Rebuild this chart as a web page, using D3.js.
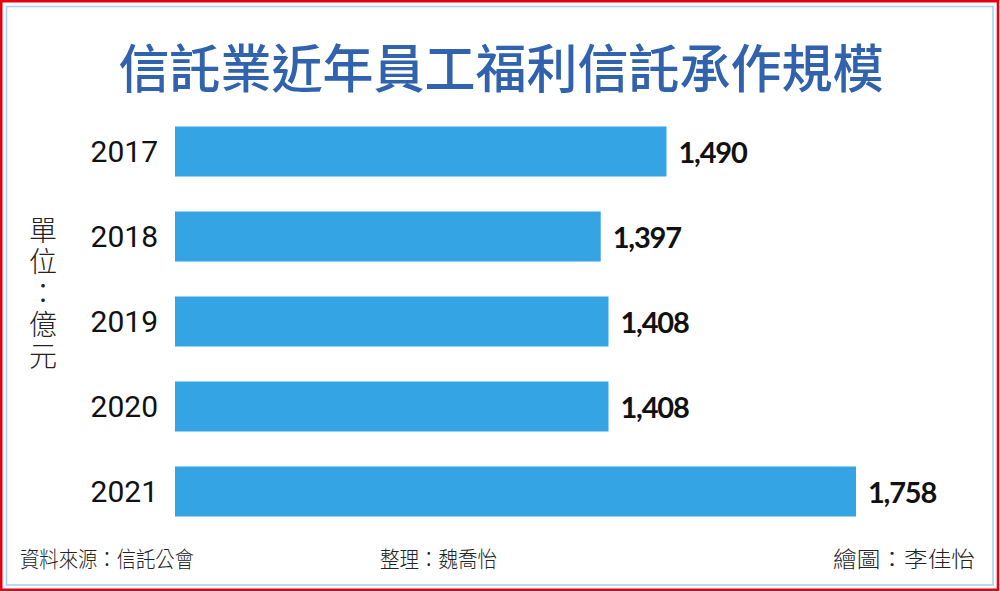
<!DOCTYPE html>
<html>
<head>
<meta charset="utf-8">
<script src="https://cdn.jsdelivr.net/npm/d3@7"></script>
<style>
  html, body { margin: 0; padding: 0; background: #fff; }
  svg { display: block; }
</style>
</head>
<body>
<svg id="chart" width="1000" height="592"></svg>
<script>
const years = ['2017', '2018', '2019', '2020', '2021'];
const values = [1490, 1397, 1408, 1408, 1758];
const valueLabels = ['1,490', '1,397', '1,408', '1,408', '1,758'];
const unitLabel = '單位：億元';
const footers = ['資料來源：信託公會', '整理：魏喬怡', '繪圖：李佳怡'];

const title = '信託業近年員工福利信託承作規模';

const svg = d3.select('#chart');
const cjk = '"Noto Sans CJK TC", "Noto Sans CJK SC", sans-serif';

// frame: red outer line, light blue inner line
svg.append('rect')
  .attr('x', 1.2).attr('y', 1.2)
  .attr('width', 996.8).attr('height', 588.6)
  .attr('fill', 'none')
  .attr('stroke', '#e60012')
  .attr('stroke-width', 2.6);

svg.append('rect')
  .attr('x', 6.5).attr('y', 6.5)
  .attr('width', 986.5).attr('height', 578.5)
  .attr('fill', 'none')
  .attr('stroke', '#a9d3f0')
  .attr('stroke-width', 1.6);

svg.append('text')
  .attr('x', 501)
  .attr('y', 65)
  .attr('text-anchor', 'middle')
  .attr('dominant-baseline', 'central')
  .attr('textLength', 765)
  .attr('lengthAdjust', 'spacingAndGlyphs')
  .style('font-family', cjk)
  .style('font-weight', 500)
  .style('font-size', '52px')
  .style('fill', '#3162ad')
  .text(title);

const x = d3.scaleLinear()
  .domain([795, 1758])
  .range([175, 856]);

const y = d3.scaleBand()
  .domain(years)
  .range([126.5, 516.5])
  .paddingInner(35 / 85)
  .paddingOuter(0);

const rows = years.map((yr, i) => ({ yr, v: values[i], lbl: valueLabels[i] }));

svg.selectAll('rect.bar')
  .data(rows)
  .enter()
  .append('rect')
  .attr('class', 'bar')
  .attr('x', x.range()[0])
  .attr('y', d => y(d.yr))
  .attr('width', d => x(d.v) - x.range()[0])
  .attr('height', y.bandwidth())
  .attr('fill', '#35a4e5');

svg.selectAll('text.val')
  .data(rows)
  .enter()
  .append('text')
  .attr('class', 'val')
  .attr('x', d => x(d.v) + 12)
  .attr('y', d => y(d.yr) + y.bandwidth() / 2)
  .attr('dominant-baseline', 'central')
  .style('font-family', 'Lato, Roboto, sans-serif')
  .style('font-weight', 700)
  .style('font-size', '29px')
  .style('letter-spacing', '-1.2px')
  .style('fill', '#111')
  .text(d => d.lbl);

// year axis (no line, no ticks)
const yAxis = svg.append('g')
  .attr('transform', 'translate(172,0)')
  .call(d3.axisLeft(y).tickSize(0).tickPadding(14));

yAxis.select('.domain').remove();
yAxis.selectAll('text')
  .attr('dy', null)
  .attr('dominant-baseline', 'central')
  .style('font-family', 'Roboto, sans-serif')
  .style('font-size', '30px')
  .style('fill', '#111');

// vertical unit label
svg.append('text')
  .attr('x', 43)
  .attr('y', 216)
  .style('writing-mode', 'vertical-rl')
  .style('text-orientation', 'upright')
  .style('letter-spacing', '3.5px')
  .style('font-family', cjk)
  .style('font-weight', 300)
  .style('font-size', '28px')
  .style('fill', '#222')
  .text(unitLabel);

// footer
const footPos = [
  { x: 20, w: 174 },
  { x: 380, w: 117 },
  { x: 833, w: 142 },
];

svg.selectAll('text.foot')
  .data(footers)
  .enter()
  .append('text')
  .attr('class', 'foot')
  .attr('x', (d, i) => footPos[i].x)
  .attr('y', 557)
  .attr('dominant-baseline', 'central')
  .attr('textLength', (d, i) => footPos[i].w)
  .attr('lengthAdjust', 'spacingAndGlyphs')
  .style('font-family', cjk)
  .style('font-weight', 300)
  .style('font-size', '22px')
  .style('fill', '#222')
  .text(d => d);
</script>
</body>
</html>
